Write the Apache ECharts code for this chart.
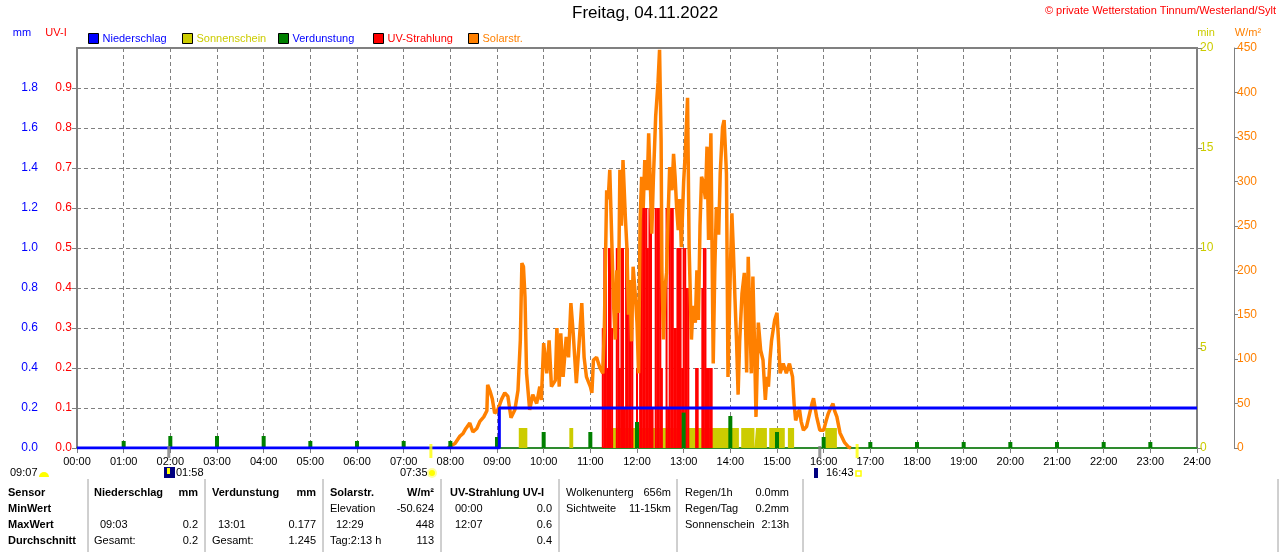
<!DOCTYPE html>
<html>
<head>
<meta charset="utf-8">
<script src="https://cdn.jsdelivr.net/npm/echarts@6.0.0/dist/echarts.min.js"></script>
<style>
  html, body { margin: 0; padding: 0; background: #fff; }
  #chart { width: 1280px; height: 552px; }
</style>
</head>
<body>
<div id="chart"></div>
<script>
var FONT = '"Liberation Sans", Arial, sans-serif';

// x axis labels
var hourLabels = ['00:00', '01:00', '02:00', '03:00', '04:00', '05:00', '06:00', '07:00', '08:00',
  '09:00', '10:00', '11:00', '12:00', '13:00', '14:00', '15:00', '16:00', '17:00', '18:00',
  '19:00', '20:00', '21:00', '22:00', '23:00', '24:00'];

// Niederschlag (mm, cumulative)
var rainTimes = ['00:00', '09:03', '24:00'];
var rainValues = [0, 0.2, 0.2];

// Sonnenschein intervals (min)
var sunStart = ['09:28', '10:33', '11:20', '14:14', '14:33', '14:50', '15:14', '16:02'];
var sunEnd = ['09:39', '10:38', '14:11', '14:31', '14:47', '15:10', '15:22', '16:17'];

// Verdunstung (mm per hour)
var evapHours = ['01:00', '02:00', '03:00', '04:00', '05:00', '06:00', '07:00', '08:00', '09:00',
  '10:00', '11:00', '12:00', '13:00', '14:00', '15:00', '16:00', '17:00', '18:00', '19:00',
  '20:00', '21:00', '22:00', '23:00'];
var evapValues = [0.035, 0.06, 0.06, 0.06, 0.035, 0.035, 0.035, 0.035, 0.055,
  0.08, 0.08, 0.13, 0.177, 0.16, 0.08, 0.055, 0.03, 0.03, 0.03,
  0.03, 0.03, 0.03, 0.03];

// UV-Strahlung, 2-minute samples from 11:16
var uvStart = '11:16';
var uvValues = [0.3, 0.5, 0.5, 0.2, 0.5, 0.5, 0.3, 0, 0, 0.5, 0.5, 0.2, 0.5, 0.5, 0.1, 0.5,
  0.5, 0.4, 0.4, 0.4, 0, 0, 0.2, 0, 0.5, 0.6, 0.6, 0.6, 0.6, 0.5, 0.6, 0.6, 0.1, 0,
  0.6, 0.6, 0.6, 0.6, 0.2, 0, 0, 0.6, 0.1, 0.6, 0.6, 0.6, 0.3, 0.3, 0.5, 0.5, 0.5,
  0.2, 0.5, 0.5, 0.4, 0.4, 0, 0, 0, 0, 0.2, 0.2, 0, 0, 0.4, 0.5, 0.5, 0.2, 0.2, 0.2, 0.2];

// Solarstrahlung (W/m²)
var solarTimes = ['07:57', '08:02', '08:06', '08:12', '08:16', '08:20', '08:25', '08:29', '08:34', '08:38',
  '08:43', '08:47', '08:48', '08:51', '08:54', '08:57', '09:01', '09:06', '09:10', '09:14', '09:18',
  '09:23', '09:27', '09:30', '09:32', '09:34', '09:36', '09:38', '09:42', '09:46', '09:51', '09:55',
  '09:57', '10:00', '10:04', '10:07', '10:10', '10:15', '10:17', '10:20', '10:22', '10:25', '10:29',
  '10:32', '10:35', '10:38', '10:42', '10:45', '10:49', '10:52', '10:55', '11:00', '11:02', '11:04',
  '11:08', '11:12', '11:16', '11:18', '11:21', '11:23', '11:25', '11:27', '11:30', '11:32', '11:34',
  '11:36', '11:38', '11:40', '11:42', '11:45', '11:47', '11:49', '11:51', '11:53', '11:55', '11:58',
  '12:00', '12:02', '12:04', '12:06', '12:08', '12:10', '12:13', '12:15', '12:17', '12:19', '12:21',
  '12:24', '12:27', '12:29', '12:31', '12:32', '12:34', '12:36', '12:38', '12:40', '12:42', '12:45',
  '12:47', '12:49', '12:51', '12:53', '12:55', '12:57', '13:00', '13:02', '13:05', '13:07', '13:10',
  '13:12', '13:15', '13:17', '13:19', '13:21', '13:23', '13:25', '13:28', '13:30', '13:32', '13:35',
  '13:38', '13:40', '13:42', '13:45', '13:47', '13:50', '13:52', '13:55', '13:57', '14:00', '14:02',
  '14:04', '14:06', '14:08', '14:10', '14:12', '14:15', '14:18', '14:21', '14:23', '14:25', '14:27',
  '14:29', '14:31', '14:33', '14:36', '14:39', '14:42', '14:45', '14:47', '14:49', '14:51', '14:53',
  '14:57', '15:00', '15:02', '15:04', '15:08', '15:12', '15:16', '15:20', '15:22', '15:24', '15:27',
  '15:29', '15:31', '15:34', '15:38', '15:42', '15:45', '15:47', '15:49', '15:51', '15:55', '16:00',
  '16:03', '16:06', '16:09', '16:12', '16:14', '16:17', '16:21', '16:27', '16:32', '16:35'];
var solarValues = [0, 3, 5, 13, 16, 22, 28, 18, 22, 30,
  35, 42, 71, 64, 55, 39, 43, 55, 62, 58, 34,
  43, 65, 121, 208, 204, 170, 84, 43, 60, 50, 69,
  54, 118, 84, 121, 69, 76, 135, 69, 129, 80, 125,
  102, 163, 129, 73, 110, 163, 102, 80, 69, 62, 99,
  102, 91, 84, 133, 290, 280, 313, 313, 159, 122, 200,
  152, 313, 250, 324, 260, 226, 150, 189, 120, 204, 170,
  141, 84, 256, 305, 270, 324, 290, 354, 301, 241, 301,
  373, 411, 448, 346, 200, 122, 180, 197, 260, 316, 290,
  331, 305, 270, 245, 280, 226, 300, 331, 394, 226, 122,
  160, 141, 200, 144, 250, 305, 300, 280, 339, 234, 354,
  95, 200, 271, 240, 309, 361, 369, 309, 80, 200, 264,
  220, 167, 120, 60, 120, 174, 197, 85, 215, 150, 84,
  193, 120, 35, 141, 110, 99, 54, 80, 69, 100, 121,
  144, 152, 120, 84, 95, 84, 95, 80, 50, 31, 40,
  43, 30, 20, 24, 39, 50, 56, 45, 35, 20, 20,
  30, 39, 45, 50, 42, 35, 17, 6, 1, 0];

// Mond / Sonne Ereignisse
var moonEvents = ['01:58', '15:55'];
var sunEvents = ['07:35', '16:43'];

function toMin(t) {
  var p = t.split(':');
  return parseInt(p[0], 10) * 60 + parseInt(p[1], 10);
}

var rainData = rainTimes.map(function (t, i) { return [toMin(t), rainValues[i]]; });
var sunData = [[0, 0]];
sunStart.forEach(function (t, i) {
  sunData.push([toMin(t), 1]);
  sunData.push([toMin(sunEnd[i]), 0]);
});
sunData.push([1440, 0]);
var evapData = evapHours.map(function (t, i) { return [toMin(t), evapValues[i]]; });
var uvData = uvValues.map(function (v, i) { return [toMin(uvStart) + i * 2, v]; });
var solarData = solarTimes.map(function (t, i) { return [toMin(t), solarValues[i]]; });

function txt(x, y, s, color, bold, align) {
  return {
    type: 'text', x: x, y: y, silent: true,
    style: {
      text: s, fill: color || '#000',
      font: (bold ? 'bold ' : '') + '11px ' + FONT,
      align: align || 'left', verticalAlign: 'middle',
      textAlign: align || 'left', textVerticalAlign: 'middle'
    }
  };
}
function vline(x) {
  return { type: 'line', silent: true, shape: { x1: x, y1: 479, x2: x, y2: 552 }, style: { stroke: '#a0a0a0', lineWidth: 1 } };
}

var graphics = [
  txt(22, 33, 'mm', '#0000ff', false, 'center'),
  txt(56, 33, 'UV-I', '#ff0000', false, 'center'),
  txt(1206, 33, 'min', '#cccc00', false, 'center'),
  txt(1248, 33, 'W/m²', '#ff8000', false, 'center'),
  txt(1276, 11, '© private Wetterstation Tinnum/Westerland/Sylt', '#ff0000', false, 'right'),
  // annotation row
  txt(10, 473, '09:07'),
  { type: 'sector', silent: true, shape: { cx: 44, cy: 477, r: 5, startAngle: Math.PI, endAngle: Math.PI * 2 }, style: { fill: '#ffff00' } },
  { type: 'rect', silent: true, shape: { x: 164, y: 467, width: 11, height: 11 }, style: { fill: '#000080' } },
  { type: 'rect', silent: true, shape: { x: 167, y: 468, width: 3, height: 6 }, style: { fill: '#ffff00' } },
  txt(176, 473, '01:58'),
  txt(400, 473, '07:35'),
  { type: 'circle', silent: true, shape: { cx: 432, cy: 473, r: 4 }, style: { fill: '#ffff00', stroke: '#ffffa0', lineWidth: 2 } },
  { type: 'rect', silent: true, shape: { x: 814, y: 468, width: 4, height: 10 }, style: { fill: '#000080' } },
  txt(826, 473, '16:43'),
  { type: 'rect', silent: true, shape: { x: 856, y: 471, width: 5, height: 5 }, style: { fill: '#fff', stroke: '#ffff00', lineWidth: 1.5 } },
  // table
  vline(88), vline(205), vline(323), vline(441), vline(559), vline(677), vline(803), vline(1278),
  txt(8, 493, 'Sensor', '#000', true), txt(8, 509, 'MinWert', '#000', true),
  txt(8, 525, 'MaxWert', '#000', true), txt(8, 541, 'Durchschnitt', '#000', true),
  txt(94, 493, 'Niederschlag', '#000', true), txt(198, 493, 'mm', '#000', true, 'right'),
  txt(100, 525, '09:03'), txt(198, 525, '0.2', '#000', false, 'right'),
  txt(94, 541, 'Gesamt:'), txt(198, 541, '0.2', '#000', false, 'right'),
  txt(212, 493, 'Verdunstung', '#000', true), txt(316, 493, 'mm', '#000', true, 'right'),
  txt(218, 525, '13:01'), txt(316, 525, '0.177', '#000', false, 'right'),
  txt(212, 541, 'Gesamt:'), txt(316, 541, '1.245', '#000', false, 'right'),
  txt(330, 493, 'Solarstr.', '#000', true), txt(434, 493, 'W/m²', '#000', true, 'right'),
  txt(330, 509, 'Elevation'), txt(434, 509, '-50.624', '#000', false, 'right'),
  txt(336, 525, '12:29'), txt(434, 525, '448', '#000', false, 'right'),
  txt(330, 541, 'Tag:2:13 h'), txt(434, 541, '113', '#000', false, 'right'),
  txt(450, 493, 'UV-Strahlung UV-I', '#000', true),
  txt(455, 509, '00:00'), txt(552, 509, '0.0', '#000', false, 'right'),
  txt(455, 525, '12:07'), txt(552, 525, '0.6', '#000', false, 'right'),
  txt(552, 541, '0.4', '#000', false, 'right'),
  txt(566, 493, 'Wolkenunterg'), txt(671, 493, '656m', '#000', false, 'right'),
  txt(566, 509, 'Sichtweite'), txt(671, 509, '11-15km', '#000', false, 'right'),
  txt(685, 493, 'Regen/1h'), txt(789, 493, '0.0mm', '#000', false, 'right'),
  txt(685, 509, 'Regen/Tag'), txt(789, 509, '0.2mm', '#000', false, 'right'),
  txt(685, 525, 'Sonnenschein'), txt(789, 525, '2:13h', '#000', false, 'right')
];

var legendItems = [
  { name: 'Niederschlag', left: 88, color: '#0000ff' },
  { name: 'Sonnenschein', left: 182, color: '#cccc00' },
  { name: 'Verdunstung', left: 278, color: '#0000ff' },
  { name: 'UV-Strahlung', left: 373, color: '#ff0000' },
  { name: 'Solarstr.', left: 468, color: '#ff8000' }
];

var grey = '#808080';
var dash = { color: grey, type: [4, 3], width: 1 };

var chart = echarts.init(document.getElementById('chart'));
chart.setOption({
  animation: false,
  backgroundColor: '#fff',
  textStyle: { fontFamily: FONT, fontSize: 11 },
  title: {
    text: 'Freitag, 04.11.2022', left: 572, top: 5, padding: 0,
    textStyle: { fontSize: 17, fontWeight: 'normal', color: '#000', fontFamily: FONT }
  },
  legend: legendItems.map(function (l) {
    return {
      left: l.left, top: 33, padding: 0, itemWidth: 10, itemHeight: 10, itemGap: 4,
      icon: 'rect', selectedMode: false,
      itemStyle: { borderColor: '#000', borderWidth: 1 },
      lineStyle: { width: 0 },
      textStyle: { color: l.color, fontSize: 11, fontFamily: FONT, padding: [0, 0, 0, -1] },
      data: [l.name]
    };
  }),
  grid: {
    left: 77, right: 83, top: 48, bottom: 104,
    show: true, borderColor: grey, borderWidth: 2, backgroundColor: '#fff'
  },
  xAxis: [{
    type: 'value', min: 0, max: 1440, interval: 60,
    axisLine: { lineStyle: { color: '#2e8b2e', width: 2 } },
    axisTick: { length: 5, lineStyle: { color: grey } },
    axisLabel: { color: '#000', fontSize: 11, margin: 8, formatter: function (v) { return hourLabels[v / 60]; } },
    splitLine: { show: true, lineStyle: dash }
  }, {
    type: 'value', min: 0, max: 1440, show: false, gridIndex: 0
  }],
  yAxis: [{
    type: 'value', min: 0, max: 2, interval: 0.2, position: 'left', offset: 36,
    axisLine: { show: true, lineStyle: { color: grey } },
    axisTick: { show: true, length: 5, lineStyle: { color: grey } },
    axisLabel: { color: '#0000ff', margin: 3, showMaxLabel: false, formatter: function (v) { return v.toFixed(1); } },
    splitLine: { show: false }
  }, {
    type: 'value', min: 0, max: 1, interval: 0.1, position: 'left', offset: 0,
    axisLine: { show: true, lineStyle: { color: grey, width: 2 } },
    axisTick: { show: false },
    axisLabel: { color: '#ff0000', margin: 5, showMaxLabel: false, formatter: function (v) { return v.toFixed(1); } },
    splitLine: { show: true, lineStyle: dash }
  }, {
    type: 'value', min: 0, max: 20, interval: 5, position: 'right', offset: 0,
    axisLine: { show: true, lineStyle: { color: grey, width: 2 } },
    axisTick: { show: true, length: 5, lineStyle: { color: grey } },
    axisLabel: { color: '#cccc00', margin: 3 },
    splitLine: { show: false }
  }, {
    type: 'value', min: 0, max: 450, interval: 50, position: 'right', offset: 37,
    axisLine: { show: true, lineStyle: { color: grey } },
    axisTick: { show: true, length: 4, lineStyle: { color: grey } },
    axisLabel: { color: '#ff8000', margin: 3 },
    splitLine: { show: false }
  }],
  series: [{
    name: 'Sonnenschein', type: 'line', xAxisIndex: 0, yAxisIndex: 2, step: 'end',
    data: sunData, symbol: 'none', color: '#cccc00', z: 1,
    lineStyle: { width: 0 }, areaStyle: { color: '#cccc00', opacity: 1 }
  }, {
    name: 'UV-Strahlung', type: 'bar', xAxisIndex: 0, yAxisIndex: 1,
    data: uvData, barWidth: 2, color: '#ff0000', z: 2
  }, {
    name: 'Solarstr.', type: 'line', xAxisIndex: 0, yAxisIndex: 3,
    data: solarData, symbol: 'none', color: '#ff8000', z: 3,
    lineStyle: { width: 3.5, color: '#ff8000' }
  }, {
    name: 'Verdunstung', type: 'bar', xAxisIndex: 1, yAxisIndex: 0,
    data: evapData, barWidth: 4, color: '#008000', z: 4
  }, {
    name: 'Niederschlag', type: 'line', xAxisIndex: 0, yAxisIndex: 0, step: 'end',
    data: rainData, symbol: 'none', color: '#0000ff', z: 5,
    lineStyle: { width: 3, color: '#0000ff' }
  }, {
    name: 'Mond', type: 'scatter', xAxisIndex: 0, yAxisIndex: 1, clip: false, silent: true, z: 6,
    data: moonEvents.map(function (t) { return [toMin(t), 0]; }),
    symbol: 'rect', symbolSize: [3, 12], symbolOffset: [0, 4], itemStyle: { color: grey }
  }, {
    name: 'Sonne', type: 'scatter', xAxisIndex: 0, yAxisIndex: 1, clip: false, silent: true, z: 6,
    data: sunEvents.map(function (t) { return [toMin(t), 0]; }),
    symbol: 'rect', symbolSize: [3, 14], symbolOffset: [0, 3], itemStyle: { color: '#ffff00' }
  }],
  graphic: graphics
});
</script>
</body>
</html>
